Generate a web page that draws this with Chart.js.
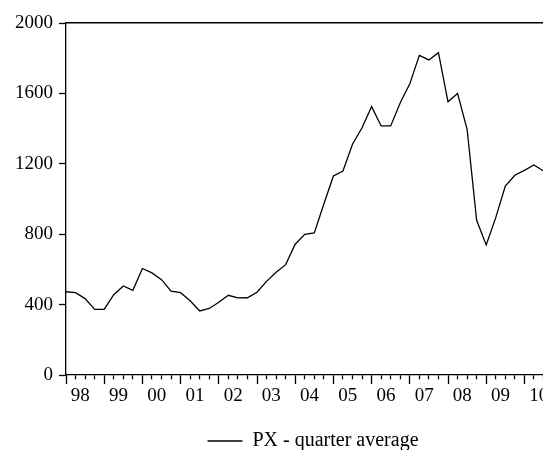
<!DOCTYPE html>
<html>
<head>
<meta charset="utf-8">
<script src="https://cdn.jsdelivr.net/npm/chart.js@4"></script>
<style>
  html, body { margin: 0; padding: 0; background: #fff; overflow: hidden; }
  #wrap { width: 626px; height: 450px; }
</style>
</head>
<body>
<div id="wrap"><canvas id="chart"></canvas></div>
<script>
// quarterly averages, 1998Q1 .. 2010Q3
const years = ["98", "99", "00", "01", "02", "03", "04", "05", "06", "07", "08", "09", "10", "11"]
const px = [
  473, 468, 434, 373, 373, 456, 506, 481, 605, 580, 542, 477,
  468, 422, 364, 378, 413, 453, 438, 439, 470, 532, 584, 627,
  743, 799, 807, 972, 1131, 1159, 1311, 1405, 1525, 1415, 1415, 1547,
  1655, 1816, 1790, 1831, 1552, 1600, 1396, 879, 739, 894, 1074, 1135,
  1163, 1193, 1159
]
const yTicks = [0, 400, 800, 1200, 1600, 2000]

const W = 626
const left = 66
const quarterPx = 9.55
const xMax = 56

Chart.defaults.font.family = "'Liberation Serif', 'DejaVu Serif', serif"
Chart.defaults.color = "#000"

const points = px.map((v, i) => ({x: i, y: v}))

new Chart(document.getElementById("chart"), {
  type: "line",
  data: {
    datasets: [{
      label: "PX - quarter average",
      data: points,
      borderColor: "#000",
      backgroundColor: "#000",
      borderWidth: 1.3,
      pointRadius: 0,
      tension: 0,
      pointStyle: "line"
    }]
  },
  options: {
    responsive: true,
    maintainAspectRatio: false,
    animation: false,
    layout: { padding: { top: 23, left: 0, right: 0, bottom: -11 } },
    plugins: {
      tooltip: { enabled: false },
      legend: {
        position: "bottom",
        labels: {
          usePointStyle: true,
          pointStyleWidth: 35,
          boxWidth: 35,
          boxHeight: 20,
          font: { size: 20 },
          padding: 3
        }
      }
    },
    scales: {
      x: {
        type: "linear",
        position: "bottom",
        min: 0,
        max: xMax,
        afterFit(scale) { scale.height = 53 },
        afterBuildTicks(scale) {
          const t = []
          for (let q = 0; q <= xMax; q++) t.push({value: q})
          years.forEach((y, k) => t.push({value: 4 * k + 1.5}))
          t.sort((a, b) => a.value - b.value)
          scale.ticks = t
        },
        border: { display: true, color: "#000", width: 1.3 },
        grid: {
          drawOnChartArea: false,
          drawTicks: true,
          tickLength: 9,
          tickWidth: 1.3,
          tickColor: (ctx) => (ctx.tick && ctx.tick.value % 1 !== 0) ? "rgba(0,0,0,0)" : "#000",
          tickBorderDash: (ctx) => (ctx.tick && ctx.tick.value % 4 !== 0) ? [4, 100] : []
        },
        ticks: {
          autoSkip: false,
          maxRotation: 0,
          padding: 1,
          font: { size: 19 },
          callback(value) {
            if (value % 1 === 0) return ""
            return years[Math.floor(value / 4)] ?? ""
          }
        }
      },
      xTop: {
        type: "linear",
        position: "top",
        min: 0,
        max: xMax,
        afterFit(scale) { scale.height = 0 },
        border: { display: true, color: "#000", width: 1.5 },
        grid: { display: false, drawTicks: false },
        ticks: { display: false }
      },
      y: {
        min: 0,
        max: 2000,
        afterFit(scale) { scale.width = left },
        afterBuildTicks(scale) { scale.ticks = yTicks.map((v) => ({value: v})) },
        border: { display: true, color: "#000", width: 1.3 },
        grid: { drawOnChartArea: false, tickLength: 7, tickWidth: 1.3, tickColor: "#000" },
        ticks: { padding: 6, font: { size: 19 }, callback: (v) => String(v) }
      },
      yRight: {
        position: "right",
        min: 0,
        max: 2000,
        afterFit(scale) { scale.width = W - left - quarterPx * xMax },
        border: { display: true, color: "#000", width: 1.3 },
        grid: { display: false, drawTicks: false },
        ticks: { display: false }
      }
    }
  }
})
</script>
</body>
</html>
